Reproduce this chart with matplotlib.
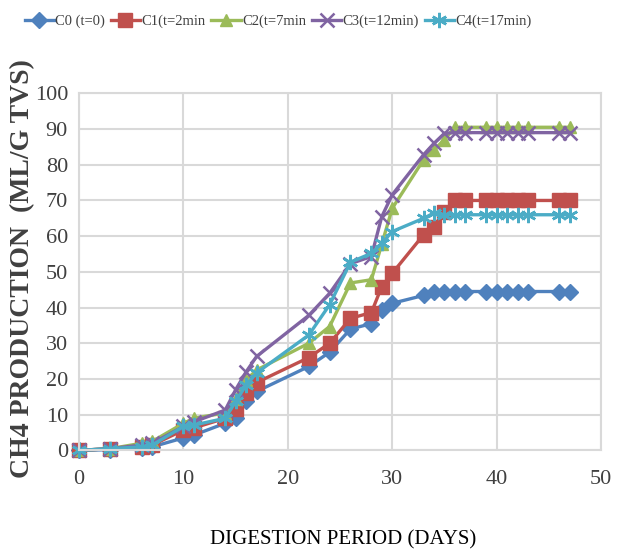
import matplotlib
matplotlib.use("Agg")
import matplotlib.pyplot as plt

days = [0, 3, 6, 7, 10, 11, 14, 15, 16, 17, 22, 24, 26, 28, 29, 30,
        33, 34, 35, 36, 37, 39, 40, 41, 42, 43, 46, 47]

c0 = [0, 0.2, 0.7, 1.0, 3.5, 4.3, 7.6, 9.0, 13.7, 16.5, 23.5, 27.5, 34.0, 35.5, 39.3, 41.2,
      43.4, 44.5, 44.5, 44.5, 44.5, 44.5, 44.5, 44.5, 44.5, 44.5, 44.5, 44.5]
c1 = [0, 0.5, 1.0, 1.5, 5.7, 6.3, 9.0, 11.5, 16.0, 19.0, 26.0, 30.0, 37.0, 38.6, 45.9, 49.6,
      60.4, 62.7, 66.9, 70.0, 70.0, 70.0, 70.0, 70.0, 70.0, 70.0, 70.0, 70.0]
c2 = [0, 0.5, 2.0, 2.5, 7.6, 9.0, 10.5, 14.5, 19.7, 22.5, 30.0, 34.7, 46.9, 47.8, 57.8, 67.8,
      81.4, 84.2, 87.0, 90.5, 90.5, 90.5, 90.5, 90.5, 90.5, 90.5, 90.5, 90.5]
c3 = [0, 0.5, 1.5, 2.0, 6.7, 8.0, 11.3, 17.0, 22.0, 26.3, 37.8, 44.0, 52.3, 54.3, 65.5, 71.6,
      82.8, 86.0, 88.8, 89.0, 89.0, 89.0, 89.0, 89.0, 89.0, 89.0, 89.0, 89.0]
c4 = [0, 0.5, 1.0, 1.5, 6.7, 7.1, 9.0, 13.7, 18.3, 21.7, 32.3, 40.8, 52.7, 55.2, 58.0, 61.3,
      65.0, 66.5, 66.0, 66.0, 66.0, 66.0, 66.0, 66.0, 66.0, 66.0, 66.0, 66.0]

labels = ["C0 (t=0)", "C1(t=2min", "C2(t=7min", "C3(t=12min)", "C4(t=17min)"]
colors = ["#4F81BD", "#C0504D", "#9BBB59", "#8064A2", "#4BACC6"]
markers = ["D", "s", "^", "x", (6, 2, 0)]
msizes = [8, 10, 9, 10, 11]
series = [c0, c1, c2, c3, c4]

plt.rcParams['font.family'] = ['Liberation Serif', 'DejaVu Serif']

fig = plt.figure(figsize=(6.18, 5.54), dpi=100)
ax = fig.add_axes([0.128, 0.187, 0.8445, 0.6445])

for ys, lab, col, mk, ms in zip(series, labels, colors, markers, msizes):
    ax.plot(days, ys, color=col, lw=2.4, marker=mk, markersize=ms,
            markeredgewidth=1.8 if mk in ("x",) or isinstance(mk, tuple) else 1,
            markeredgecolor=col, markerfacecolor=col, label=lab, clip_on=False)

ax.set_xlim(0, 50)
ax.set_ylim(0, 100)
ax.set_xticks(range(0, 51, 10))
ax.set_yticks(range(0, 101, 10))
ax.grid(True, color="#D9D9D9", lw=1.5)
ax.set_axisbelow(True)
for s in ax.spines.values():
    s.set_color("#D9D9D9")
    s.set_linewidth(1.5)
ax.tick_params(length=0, labelsize=16, colors="#404040", pad=8)
ax.tick_params(axis='x', pad=14)

fig.text(0.555, 0.025, "DIGESTION PERIOD (DAYS)", ha="center", va="center",
         fontsize=15, color="black")
fig.text(0.036, 0.515, "CH4 PRODUCTION  (ML/G TVS)", rotation=90, ha="center",
         va="center", fontsize=20, fontweight="bold", color="#404040")

leg = fig.legend(loc="center", bbox_to_anchor=(0.45, 0.962), ncol=5, frameon=False,
                 fontsize=10.5, handlelength=2.0, handletextpad=0.1, columnspacing=0.4,
                 labelcolor="#404040", prop={'family': ['Liberation Serif'], 'size': 10.5,
                                             'stretch': 'condensed'})

fig.savefig("out.png", dpi=100)
